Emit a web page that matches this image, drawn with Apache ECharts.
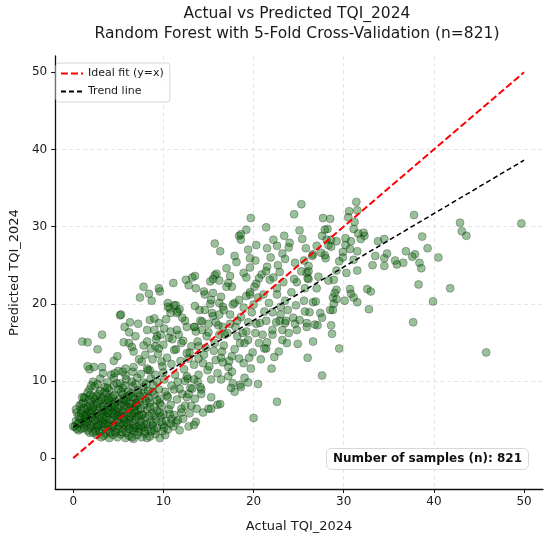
<!DOCTYPE html>
<html>
<head>
<meta charset="utf-8">
<script src="https://cdn.jsdelivr.net/npm/echarts@6/dist/echarts.min.js"></script>
<style>
  html, body { margin: 0; padding: 0; background: #fff; }
  #main { width: 550px; height: 542px; }
</style>
</head>
<body>
<div id="main"></div>
<script>
// tick labels shared by both axes
const tickValues = [0, 10, 20, 30, 40, 50]

// reference lines, [actual, predicted]
const idealLine = [[0, 0], [50, 50]]
const trendLine = [[0, 4.0], [50, 38.6]]

// scatter points, [actual, predicted]
// dense cluster of small values
const denseCluster = [
  [2.6,3.0],[3.1,2.7],[3.6,3.2],[4.0,2.6],[4.4,3.0],[4.9,2.7],[5.3,3.1],[5.8,2.6],[6.2,2.9],[6.7,2.5],
  [7.1,3.0],[7.6,2.7],[8.0,3.2],[8.5,2.8],[9.1,3.1],[9.6,2.6],[10.2,3.0],[1.8,3.3],[0.6,3.6],[1.2,3.9],
  [0.2,4.1],[0.5,4.4],[0.9,3.8],[1.4,4.2],[1.9,3.9],[2.3,4.3],[2.8,3.7],[3.3,4.1],[3.7,3.6],[4.2,4.0],
  [4.6,3.5],[5.1,4.2],[5.5,3.8],[6.0,4.1],[6.4,3.6],[6.9,4.3],[7.3,3.8],[7.8,4.0],[8.3,3.7],[8.8,4.2],
  [9.3,3.9],[9.9,4.3],[10.5,3.7],[11.1,4.1],[11.8,3.6],
  [0.3,4.8],[0.8,5.2],[1.2,4.7],[1.7,5.1],[2.1,4.6],[2.6,5.3],[3.0,4.8],[3.5,5.0],[3.9,4.5],[4.4,5.2],
  [4.8,4.7],[5.3,5.4],[5.7,4.9],[6.2,5.1],[6.6,4.6],[7.1,5.3],[7.5,4.8],[8.0,5.2],[8.6,4.7],[9.2,5.0],
  [9.7,5.4],[10.3,4.8],[10.9,5.1],[11.4,4.6],
  [0.4,5.9],[0.9,6.3],[1.4,5.7],[1.8,6.1],[2.3,5.6],[2.7,6.4],[3.2,5.9],[3.6,6.2],[4.1,5.7],[4.5,6.3],
  [5.0,5.8],[5.4,6.1],[5.9,5.6],[6.3,6.4],[6.8,5.9],[7.2,6.2],[7.7,5.7],[8.2,6.3],[8.7,5.8],[9.3,6.1],
  [10.0,5.7],[10.6,6.3],
  [0.7,6.8],[1.1,7.2],[1.6,6.7],[2.0,7.3],[2.5,6.9],[2.9,7.4],[3.4,6.8],[3.8,7.1],[4.3,6.6],[4.7,7.3],
  [5.2,6.9],[5.6,7.4],[6.1,6.7],[6.5,7.2],[7.0,6.8],[7.4,7.3],[7.9,6.9],[8.5,7.2],[9.0,6.7],[9.6,7.1],
  [1.3,7.8],[1.9,8.2],[2.4,7.7],[2.8,8.3],[3.3,7.9],[3.7,8.4],[4.2,7.8],[4.6,8.2],[5.1,7.6],[5.5,8.3],
  [6.0,7.9],[6.4,8.4],[6.9,7.7],[7.4,8.1],[7.9,8.5],[8.4,7.8],[9.0,8.2],[9.6,7.7],
  [1.8,8.9],[2.4,9.3],[3.0,8.7],[3.5,9.2],[4.0,8.8],[4.5,9.4],[5.0,8.9],[5.5,9.1],[6.1,8.6],[6.6,9.3],
  [7.2,8.8],[7.8,9.2],[8.3,8.7],[8.9,9.4],[9.5,8.9],
  [2.2,9.9],[3.0,10.3],[3.8,9.8],[4.5,10.4],[5.2,9.7],[5.9,10.2],[6.5,9.9],[7.1,10.4],[7.8,9.8],[8.6,10.3],
  [9.3,9.9],[10.1,10.2],
  [3.3,11.0],[4.2,10.8],[5.0,11.3],[5.8,10.7],[6.6,11.2],[7.5,10.9],[8.3,11.4],[9.1,10.8],[10.0,11.1],
  [1.0,4.5],[1.5,5.5],[2.0,4.2],[2.5,5.8],[3.0,4.4],[3.4,5.6],[3.9,6.6],[4.3,4.3],[4.8,6.0],[5.2,4.5],
  [5.7,6.8],[6.1,4.4],[6.6,5.5],[7.0,4.0],[2.2,6.6],[3.1,7.6],[4.0,7.4],[1.6,6.4],[2.9,3.4],[4.1,3.3],
  [5.4,3.4],[6.8,3.5],[1.1,5.6],[2.6,4.0],[3.7,5.3],[5.0,5.5],[6.3,5.3],[7.6,5.6],[8.1,4.4],[9.0,5.6],
  [0.0,4.1],[1.2,7.9],[0.9,5.8],[1.0,7.9]
]

// second layer of the same cluster, where the picture is nearly solid
const denseCore = [
  [2.2,3.3],[3.4,2.9],[4.7,3.3],[5.9,3.3],[7.3,3.4],[8.7,3.5],[9.9,3.5],[6.5,2.7],[8.2,2.6],
  [0.4,3.8],[1.6,3.6],[2.5,3.5],[3.5,4.4],[4.5,4.1],[5.6,4.4],[6.7,3.9],[7.9,3.5],[9.0,3.6],[10.1,4.0],[10.8,4.5],
  [0.6,4.6],[1.4,5.0],[2.4,4.9],[3.3,4.6],[4.1,5.0],[5.0,5.0],[5.9,4.6],[6.9,5.0],[7.8,4.5],[8.9,4.6],[9.8,4.7],
  [0.6,5.4],[1.3,5.3],[2.0,5.8],[2.9,5.4],[3.8,5.9],[4.6,5.5],[5.5,5.9],[6.4,5.8],[7.3,5.5],[8.4,5.5],[9.6,5.9],
  [0.3,6.3],[1.2,6.5],[2.1,6.2],[3.0,6.6],[3.9,6.2],[4.9,6.5],[5.8,6.3],[6.7,6.6],[7.5,6.4],[8.5,6.6],
  [0.9,7.0],[1.8,7.6],[2.7,7.1],[3.6,7.5],[4.5,7.0],[5.4,7.2],[6.3,7.0],[7.2,7.6],[8.1,7.4],[9.3,7.5],
  [1.6,8.5],[2.6,8.1],[3.5,8.6],[4.4,8.0],[5.3,8.6],[6.2,8.1],[7.1,8.4],[8.0,8.0],[8.8,8.6],
  [2.7,9.6],[3.8,9.1],[4.8,9.7],[5.7,9.4],[6.9,9.6],[8.1,9.6],[2.0,9.4],
  [1.5,4.7],[2.8,4.2],[3.9,4.2],[5.0,3.8],[6.2,3.8],[7.5,4.2],[2.1,5.3],[3.2,5.2],[4.4,5.8],[5.6,5.2],
  [6.8,6.2],[1.9,6.8],[3.3,6.3],[4.6,6.8],[5.9,7.4],[7.0,7.1],[2.2,7.9],[3.9,7.7],[5.6,7.7],[6.6,7.9]
]

// sparse points above the cluster, actual below 10
const lowUpper = [
  [1.0,15.1],[1.6,15.0],[2.7,14.1],[3.2,16.0],[5.2,18.5],[5.3,18.6],[5.7,17.0],[6.3,17.6],
  [1.8,11.5],[2.3,11.8],[3.2,11.8],[4.5,12.6],[4.9,13.2],[5.6,15.0],[6.2,14.9],[6.5,14.4],
  [6.7,13.8],[7.4,20.8],[7.8,22.2],[8.4,21.3],[9.5,22.0],[8.7,20.4],[8.5,17.9],
  [9.5,17.5],[8.2,15.1],[9.1,14.5],[9.5,14.2],[9.3,15.8],[7.6,12.5],[6.7,11.8],[5.8,11.6],
  [9.8,12.5],[8.5,11.4],[1.6,11.9],[4.6,11.0],[5.5,11.2],
  [9.0,18.1],[8.2,16.6],[9.7,16.0],[8.2,11.6],
  [8.8,12.8],[9.4,13.5],[9.9,11.9],[8.6,14.2],[9.2,15.4],[9.0,16.6],[8.0,13.4],[7.3,12.8],
  [7.8,14.6],[6.9,15.8],[7.2,17.4],[6.2,16.3]
]

// middle of the cloud, actual 10 to 25
const midCloud = [
  [10.5,20.1],[10.7,19.4],[11.2,19.8],[11.6,19.0],[12.4,17.8],[13.5,17.0],[14.3,16.6],[14.8,15.8],
  [11.0,15.4],[12.0,14.9],[11.4,14.1],[12.9,13.7],[13.9,14.5],[15.7,14.9],[16.4,13.0],[17.2,11.8],
  [17.7,9.7],[18.5,9.5],[13.7,6.4],[15.0,6.4],[16.0,6.9],[12.8,4.1],[13.6,4.7],[11.6,4.9],
  [12.0,5.9],[10.7,5.7],[10.4,8.1],[11.2,8.9],[12.1,8.3],[13.0,9.1],[11.6,9.9],[12.7,10.3],
  [13.8,9.9],[14.2,8.9],
  [10.4,13.0],[10.9,12.2],[11.3,10.8],[11.9,12.6],[12.3,11.5],[12.8,12.9],[10.0,14.7],[10.6,15.6],
  [11.2,14.0],[11.7,16.0],[12.2,15.2],[10.1,16.8],
  [10.8,6.9],[11.5,7.6],[12.0,6.4],[12.6,7.9],[13.1,6.8],[10.2,8.6],[10.9,9.4],[11.8,9.0],
  [12.4,10.0],[9.8,6.8],[10.5,7.9],[11.2,5.6],[12.2,5.1],[12.9,5.8],[13.4,4.3],
  [22.6,7.3],[20.0,5.2],[20.5,9.6],[22.0,11.6],[22.8,13.8],[21.4,14.2],[19.9,13.7],[18.9,12.3],
  [19.7,11.6],[19.0,10.4],[19.4,9.8],[18.6,9.2],[17.9,8.6],[17.5,9.1],[16.3,7.0],[15.3,7.9],
  [15.3,6.4],[14.1,9.2],[13.2,9.0],[16.4,10.2],[17.2,10.6],[16.6,12.4],
  [17.6,11.2],[22.1,16.0],[23.2,15.3],[23.7,14.9],[23.2,16.6],[24.8,16.6],[21.2,14.2],[23.5,17.5],
  [22.1,16.6],[22.9,17.8],[21.0,16.0],[20.2,16.2],[20.7,17.5],[19.4,15.3],[18.5,14.9],[18.2,15.8],
  [18.8,16.2],[17.1,16.2],[16.2,16.0],[14.7,14.3],[13.8,15.1],[13.1,14.5],[12.6,13.6],
  [16.5,13.8],[17.6,13.2],[15.8,12.7],[14.4,12.3],[13.4,12.1],[14.9,11.4],[13.9,10.8],[12.6,10.6],
  [15.3,10.2],[13.4,10.2],[14.2,8.3],[12.8,8.3],[13.5,7.7],[12.4,6.8],[14.4,5.9],
  [13.9,12.9],[14.5,13.4],[15.1,11.9],[15.6,13.9],[16.0,11.0],[16.7,14.6],[17.3,12.6],[17.9,14.1],
  [18.4,12.9],[19.0,14.9],[19.5,13.0],[13.6,16.4],[14.3,17.7],[15.0,16.3],[15.5,18.4],[16.1,17.2],
  [16.8,16.0],[17.4,18.6],[18.0,17.0],[18.6,18.3],[19.2,16.4],[19.8,18.9],[14.0,19.2],[15.2,20.0],
  [16.6,19.6],[17.7,19.9],[18.9,19.5],[20.0,19.9],
  [20.8,12.8],[21.5,15.0],[22.3,13.1],[23.0,18.6],[23.9,16.2],[24.4,18.2],[24.9,14.8],[20.6,14.9],
  [21.2,19.0],[22.1,18.9],[23.5,20.4],[24.2,21.5],[24.8,22.8],[20.9,23.8],[21.9,26.0],[23.2,26.5],
  [24.6,25.3],[20.2,25.6],[22.9,24.1],[24.0,27.9],[19.4,27.0],[18.1,25.4],[17.0,24.6],[16.2,23.0]
]

// upper band, actual 7 to 25
const upperCloud = [
  [24.5,31.6],[19.7,31.1],[21.4,29.9],[19.2,29.6],[18.4,28.8],[18.6,29.0],[18.6,28.3],[15.7,27.8],
  [16.3,26.8],[17.9,26.2],[20.3,27.6],[21.5,27.2],[22.2,28.3],[22.6,27.5],[23.4,28.8],[23.9,27.3],
  [19.6,25.9],[19.6,24.7],[21.5,24.8],[21.4,24.2],[22.7,25.0],[23.5,25.8],[24.5,23.2],[23.3,22.8],
  [22.6,22.0],[22.2,23.4],[21.8,23.1],[20.6,23.3],[20.3,22.6],[20.1,22.2],[19.6,21.5],[19.2,23.4],
  [18.9,24.0],[17.4,23.6],[17.2,22.7],[17.6,22.2],[17.0,22.2],[15.7,23.7],[15.9,23.9],[15.5,23.2],
  [15.2,22.9],[13.5,23.6],[13.2,23.4],[12.5,23.1],[12.8,22.4],[13.6,22.0],[11.1,22.7],
  [9.6,21.6],[10.5,19.6],[11.4,19.8],[11.8,19.3],[10.8,18.8],[11.5,18.8],[12.1,18.2],
  [10.3,18.0],[13.5,19.7],[14.5,21.6],[14.6,21.2],[15.5,21.4],[16.4,20.9],[16.2,20.1],[15.3,20.5],
  [14.6,19.2],[15.4,18.8],[16.2,18.6],[16.7,19.2],[17.9,20.1],[18.4,20.5],[19.2,21.0],[19.6,21.2],
  [20.5,20.8],[21.1,21.2],[22.6,21.2],[21.7,20.1],[23.0,19.6],[23.8,19.2],[24.7,19.8],[22.5,17.6],
  [21.4,17.8],[20.3,17.4],[19.4,17.6],[18.2,17.8],[17.4,17.4],[16.6,17.0],[15.8,17.6],[15.0,17.4],
  [14.1,17.8],[13.4,17.0],[12.6,17.0],[11.5,16.6],[10.8,16.4],[23.6,17.8],[24.6,17.4]
]

// right part of the cloud and the tail, actual above 25
const rightCloud = [
  [49.7,30.4],[45.8,13.7],[42.9,30.5],[43.1,29.4],[43.6,28.8],[41.8,22.0],[39.9,20.3],[40.5,26.0],
  [39.3,27.2],[38.7,28.7],[37.8,31.5],[37.9,26.4],[37.6,26.1],[38.4,25.3],[38.6,24.6],[38.3,22.5],
  [37.7,17.6],[36.9,26.8],[36.6,25.3],[35.9,25.1],[35.7,25.6],[34.8,26.5],[34.5,25.9],[34.5,24.9],
  [34.5,28.4],[33.8,28.1],[33.5,26.2],[33.2,25.0],[32.8,19.3],[33.0,21.6],[32.6,21.9],[32.3,28.8],
  [32.2,29.2],[31.9,28.4],[31.5,26.8],[31.5,24.3],[31.5,20.2],[31.4,33.2],[31.5,32.1],[30.6,32.0],
  [30.5,31.2],[31.2,30.6],[31.1,29.7],[31.6,29.1],[30.8,28.1],[30.2,28.5],[30.2,27.6],[30.7,27.1],
  [29.9,26.7],[29.9,26.0],[31.1,25.7],[29.5,25.5],[30.3,24.0],[29.2,24.3],[28.9,23.1],[29.2,21.8],
  [30.7,21.9],[30.8,21.3],[31.1,20.8],[30.1,20.4],[28.8,20.8],[28.8,19.2],[28.7,16.1],[29.5,14.2],
  [27.7,31.1],[28.5,31.0],[28.2,29.7],[27.6,28.8],[28.6,28.3],[29.2,28.1],[28.6,27.4],[28.1,28.3],
  [27.0,27.5],[27.5,26.6],[28.0,25.9],[26.6,26.4],[25.8,27.2],[25.4,28.4],[25.3,32.9],[26.1,24.9],
  [25.9,24.0],[27.2,23.5],[28.3,23.0],[27.0,22.0],[26.1,23.2],[25.7,22.0],[26.6,20.2],[25.6,20.4],
  [26.2,18.9],[27.6,18.2],[25.9,17.5],[26.8,17.3],[26.6,15.1],[26.0,13.0],[27.6,10.7],
  [25.1,17.9],[28.5,19.2],[29.2,20.6],[29.0,21.4],[25.1,29.5],
  [27.9,29.6],[28.3,27.6],[27.9,26.3],[26.5,26.2],[25.6,25.6],
  [25.3,24.2],[26.1,24.2],[26.0,23.3],[25.7,19.0],[26.9,20.3],[27.4,18.8],[28.9,20.0],[28.6,17.2],
  [27.1,17.2],[25.9,17.0]
]

const myChart = echarts.init(document.getElementById('main'))
const font = 'DejaVu Sans'

const gridLine = { show: true, showMinLine: false, showMaxLine: false, lineStyle: { color: '#dedede', width: 0.8, type: [4, 3] } }

let option = {
  animation: false,
  title: [
    {
      text: 'Actual vs Predicted TQI_2024\nRandom Forest with 5-Fold Cross-Validation (n=821)',
      left: 297, top: 4, padding: 0, textAlign: 'center',
      textStyle: { fontFamily: font, fontSize: 15.5, fontWeight: 'normal', color: '#1a1a1a', lineHeight: 20 }
    },
    {
      text: 'Number of samples (n): 821',
      right: 21, top: 448,
      padding: [5, 7],
      backgroundColor: 'rgba(255,255,255,0.9)',
      borderColor: '#d8d8d8', borderWidth: 1, borderRadius: 5,
      textStyle: { fontFamily: font, fontSize: 12, fontWeight: 'bold', color: '#111' }
    }
  ],
  legend: {
    data: ['Ideal fit (y=x)', 'Trend line'],
    orient: 'vertical',
    left: 56, top: 63,
    padding: [5, 6, 5, 4],
    itemWidth: 22, itemHeight: 10, itemGap: 7,
    itemStyle: { opacity: 0 },
    backgroundColor: 'rgba(255,255,255,0.85)',
    borderColor: '#d4d4d4', borderWidth: 1, borderRadius: 3,
    textStyle: { fontFamily: font, fontSize: 11, color: '#1a1a1a' }
  },
  grid: { left: 51, right: 7, top: 56, bottom: 53 },
  xAxis: {
    type: 'value', min: -2, max: 52.1,
    name: 'Actual TQI_2024', nameLocation: 'middle', nameGap: 31,
    nameTextStyle: { fontFamily: font, fontSize: 13, color: '#1a1a1a' },
    axisLine: { onZero: false, lineStyle: { color: '#111', width: 1.3 } },
    axisTick: { customValues: tickValues, length: 4, lineStyle: { color: '#111' } },
    axisLabel: { customValues: tickValues, margin: 7, fontFamily: font, fontSize: 12, color: '#1a1a1a' },
    splitLine: gridLine
  },
  yAxis: {
    type: 'value', min: -4, max: 52.1,
    name: 'Predicted TQI_2024', nameLocation: 'middle', nameGap: 27, nameRotate: 90,
    nameTextStyle: { fontFamily: font, fontSize: 13, color: '#1a1a1a' },
    axisLine: { show: true, onZero: false, lineStyle: { color: '#111', width: 1.3 } },
    axisTick: { show: true, customValues: tickValues, length: 4, lineStyle: { color: '#111' } },
    axisLabel: { customValues: tickValues, margin: 8, fontFamily: font, fontSize: 12, color: '#1a1a1a' },
    splitLine: gridLine
  },
  series: [
    {
      name: 'Samples',
      type: 'scatter',
      symbolSize: 8,
      data: denseCluster.concat(denseCore, lowUpper, midCloud, upperCloud, rightCloud),
      itemStyle: { color: 'rgba(0,100,0,0.5)', borderColor: 'rgba(0,0,0,0.55)', borderWidth: 0.6 },
      z: 2
    },
    {
      name: 'Ideal fit (y=x)',
      type: 'line',
      data: idealLine,
      symbol: 'none',
      lineStyle: { color: '#ff0000', width: 2, type: [7, 3] },
      z: 3
    },
    {
      name: 'Trend line',
      type: 'line',
      data: trendLine,
      symbol: 'none',
      lineStyle: { color: '#000', width: 1.5, type: [5, 3] },
      z: 4
    }
  ]
}

myChart.setOption(option)
</script>
</body>
</html>
